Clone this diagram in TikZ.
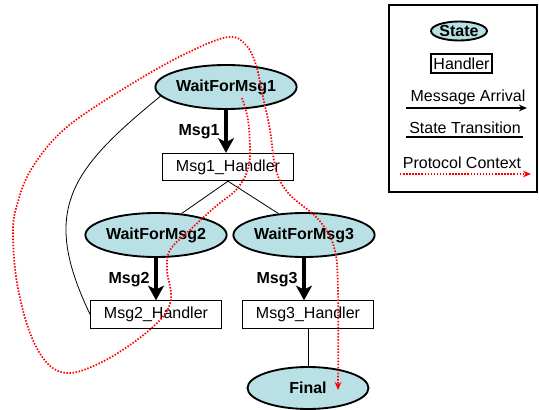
\documentclass[tikz,border=0pt]{standalone}
\usepackage{fontspec}
\setmainfont{Liberation Sans}
\usetikzlibrary{shapes.geometric,arrows.meta}
\definecolor{statefill}{RGB}{185,224,228}

\begin{document}
\begin{tikzpicture}[x=0.75pt,y=-0.75pt,
  font=\fontsize{12}{14}\selectfont,
  state/.style={ellipse,draw,line width=1.4pt,fill=statefill,
    minimum width=90.75pt,minimum height=33pt,inner sep=0pt,
    font=\fontsize{12}{14}\selectfont\bfseries},
  handler/.style={rectangle,draw,line width=0.8pt,fill=white,
    minimum width=98pt,minimum height=20.5pt,inner sep=0pt},
  msg/.style={line width=3pt,-{Stealth[length=11pt,width=12pt,inset=3pt]}},
  trans/.style={line width=0.6pt},
  context/.style={red,line width=1.3pt,dash pattern=on 1.1pt off 1.2pt,
    -{Stealth[length=6pt,width=5pt]}},
  lbl/.style={font=\fontsize{12}{14}\selectfont\bfseries}]
  \useasboundingbox (0,0) rectangle (539,410);

  \node[draw,line width=0.8pt,minimum width=111pt,minimum height=140.25pt] (legend) at (463,98.5) {};
  \node[state,minimum width=42pt,minimum height=14.25pt] (keystate) at (459,31) {State};
  \node[handler,minimum width=45.75pt,minimum height=14.25pt] (keyhandler) at (461.5,63.5) {Handler};
  \node (keymsg) at (468,97) {Message Arrival};
  \node (keytrans) at (465,128) {State Transition};
  \node (keyctx) at (462,163) {Protocol Context};
  \coordinate (keymsgA) at (406,108);
  \coordinate (keymsgB) at (527,108);
  \coordinate (keytransA) at (406,137);
  \coordinate (keytransB) at (523,137);
  \coordinate (keyctxA) at (400,174);
  \coordinate (keyctxB) at (531,174);
  \draw[line width=0.8pt,-{Stealth[length=6pt,width=5pt]}] (keymsgA) -- (keymsgB);
  \draw[trans,line width=0.8pt] (keytransA) -- (keytransB);
  \draw[context] (keyctxA) -- (keyctxB);

  \node[state] (wait1) at (226,87) {WaitForMsg1};
  \node[handler] (h1) at (228,167) {Msg1\_Handler};
  \node[state] (wait2) at (156,235) {WaitForMsg2};
  \node[handler] (h2) at (156,314.5) {Msg2\_Handler};
  \node[state] (wait3) at (304,235) {WaitForMsg3};
  \node[handler] (h3) at (308,314.5) {Msg3\_Handler};
  \node[state,minimum height=31.5pt] (final) at (308,388) {Final};

  \draw[msg] (wait1.south) -- node[left,lbl] {Msg1} (wait1.south |- h1.north);
  \draw[msg] (wait2.south) -- node[left,lbl] {Msg2} (wait2.south |- h2.north);
  \draw[msg] (wait3.south) -- node[left,lbl] {Msg3} (wait3.south |- h3.north);

  \draw[trans] (h1.south) -- (wait2.40);
  \draw[trans] (h1.south) -- (wait3.140);
  \draw[trans] (h3.south) -- (final.north);
  \draw[trans] (wait1.188) .. controls (70,170) and (40,210) .. (h2.west);

  \coordinate (ctxstart) at (242,98);
  \coordinate (ctxend) at (338,390);
  \draw[context] plot[smooth,tension=0.6] coordinates {(ctxstart) (248,120) (250,153)
    (247,172) (236,190) (215,207) (190,230) (170,250) (167,270) (171,293) (168,309)
    (155,325) (130,345) (100,363) (70,373) (48,364) (30,333) (17,283) (13,233)
    (17,205) (32,168) (67,127) (133,83) (187,53) (228,37) (246,45) (256,65)
    (263,97) (270,130) (276,170) (289,194) (318,219) (334,247) (338,290) (ctxend)};
\end{tikzpicture}
\end{document}
